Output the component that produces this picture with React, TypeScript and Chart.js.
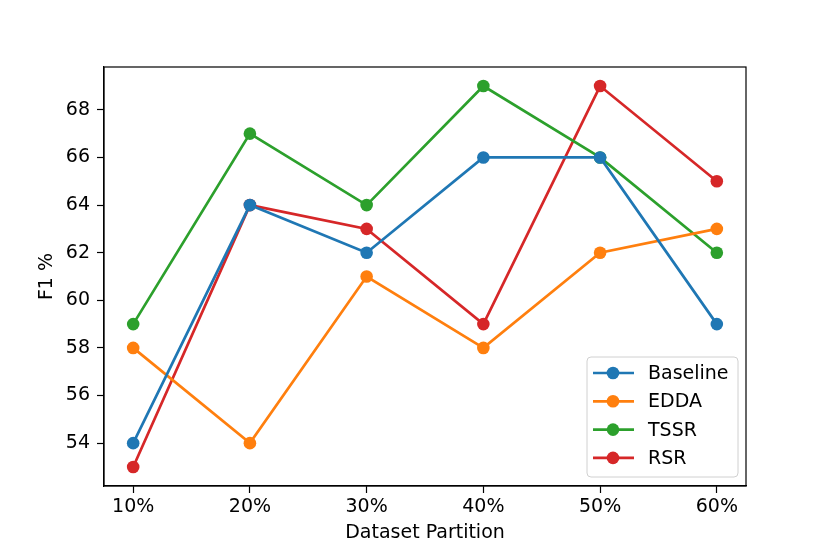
import React, { useEffect, useRef } from "react";
import { Chart, registerables } from "chart.js";

Chart.register(...registerables);

const partitions = ["10%", "20%", "30%", "40%", "50%", "60%"];
const baseline = [54, 64, 62, 66, 66, 59];
const edda = [58, 54, 61, 58, 62, 63];
const tssr = [59, 67, 64, 69, 66, 62];
const rsr = [53, 64, 63, 59, 69, 65];
const yTicks = [54, 56, 58, 60, 62, 64, 66, 68];

const seriesNames = ["Baseline", "EDDA", "TSSR", "RSR"];
const seriesColors = ["#1f77b4", "#ff7f0e", "#2ca02c", "#d62728"];
const seriesValues = [baseline, edda, tssr, rsr];

const fontFamily = "'DejaVu Sans', sans-serif";
const fontSize = 19;

// frame round the plot area, like matplotlib spines
const framePlugin = {
  id: "frame",
  afterDraw(chart: any) {
    const { ctx, chartArea: a } = chart;
    ctx.save();
    ctx.strokeStyle = "#000";
    ctx.lineWidth = 1.2;
    ctx.strokeRect(a.left, a.top, a.right - a.left, a.bottom - a.top);
    ctx.restore();
  },
};

// legend drawn inside the plot, lower right
const innerLegend = {
  id: "innerLegend",
  afterDraw(chart: any) {
    const { ctx, chartArea: a } = chart;
    const w = 151;
    const h = 120;
    const x = a.right - 8 - w;
    const y = a.bottom - 9 - h;
    ctx.save();
    ctx.beginPath();
    ctx.roundRect(x, y, w, h, 4);
    ctx.fillStyle = "rgba(255,255,255,0.8)";
    ctx.fill();
    ctx.strokeStyle = "#d0d0d0";
    ctx.lineWidth = 1;
    ctx.stroke();
    ctx.font = `${fontSize}px ${fontFamily}`;
    ctx.textBaseline = "middle";
    seriesNames.forEach((name, i) => {
      const cy = y + 16 + i * 28.3;
      ctx.strokeStyle = seriesColors[i];
      ctx.lineWidth = 2.7;
      ctx.beginPath();
      ctx.moveTo(x + 6, cy);
      ctx.lineTo(x + 47, cy);
      ctx.stroke();
      ctx.fillStyle = seriesColors[i];
      ctx.beginPath();
      ctx.arc(x + 26, cy, 6.3, 0, Math.PI * 2);
      ctx.fill();
      ctx.fillStyle = "#000";
      ctx.fillText(name, x + 61, cy + 1);
    });
    ctx.restore();
  },
};

const App: React.FC = () => {
  const chartRef = useRef<HTMLCanvasElement | null>(null);

  useEffect(() => {
    document.body.style.margin = "0";
    if (!chartRef.current) return;

    const chart = new Chart(chartRef.current, {
      type: "line",
      data: {
        datasets: seriesNames.map((name, i) => ({
          label: name,
          data: seriesValues[i].map((v, j) => ({ x: j, y: v })),
          borderColor: seriesColors[i],
          backgroundColor: seriesColors[i],
          borderWidth: 2.7,
          pointRadius: 6.3,
          pointHoverRadius: 6.3,
          pointBorderWidth: 0,
          tension: 0,
        })),
      },
      options: {
        animation: false,
        responsive: true,
        maintainAspectRatio: false,
        layout: { padding: { left: 0, top: 67, right: 84, bottom: 0 } },
        plugins: {
          legend: { display: false },
          tooltip: { enabled: false },
        },
        scales: {
          x: {
            type: "linear",
            min: -0.25,
            max: 5.25,
            afterBuildTicks: (scale: any) => {
              scale.ticks = partitions.map((_, i) => ({ value: i }));
            },
            afterFit: (scale: any) => {
              scale.height = 68;
            },
            grid: {
              drawOnChartArea: false,
              drawTicks: true,
              tickLength: 7,
              color: "#000",
              tickWidth: 1.2,
            },
            border: { display: true, color: "#000", width: 1.2 },
            ticks: {
              color: "#000",
              font: { size: fontSize, family: fontFamily },
              padding: 3,
              maxRotation: 0,
              autoSkip: false,
              callback: (v: any) => partitions[v as number] ?? "",
            },
            title: {
              display: true,
              text: "Dataset Partition",
              color: "#000",
              font: { size: fontSize, family: fontFamily },
              padding: { top: 0, bottom: 10 },
            },
          },
          y: {
            min: 52.2,
            max: 69.8,
            afterBuildTicks: (scale: any) => {
              scale.ticks = yTicks.map((v) => ({ value: v }));
            },
            afterFit: (scale: any) => {
              scale.width = 104;
            },
            grid: {
              drawOnChartArea: false,
              drawTicks: true,
              tickLength: 7,
              color: "#000",
              tickWidth: 1.2,
            },
            border: { display: true, color: "#000", width: 1.2 },
            ticks: {
              color: "#000",
              font: { size: fontSize, family: fontFamily },
              padding: 7,
              autoSkip: false,
            },
            title: {
              display: true,
              text: "F1 %",
              color: "#000",
              font: { size: fontSize, family: fontFamily },
              padding: { top: 36, bottom: 0 },
            },
          },
        },
      },
      plugins: [framePlugin, innerLegend],
    });

    return () => {
      chart.destroy();
    };
  }, []);

  return (
    <div style={{ width: 830, height: 554, position: "relative", background: "#fff" }}>
      <canvas ref={chartRef} />
    </div>
  );
};

export default App;
